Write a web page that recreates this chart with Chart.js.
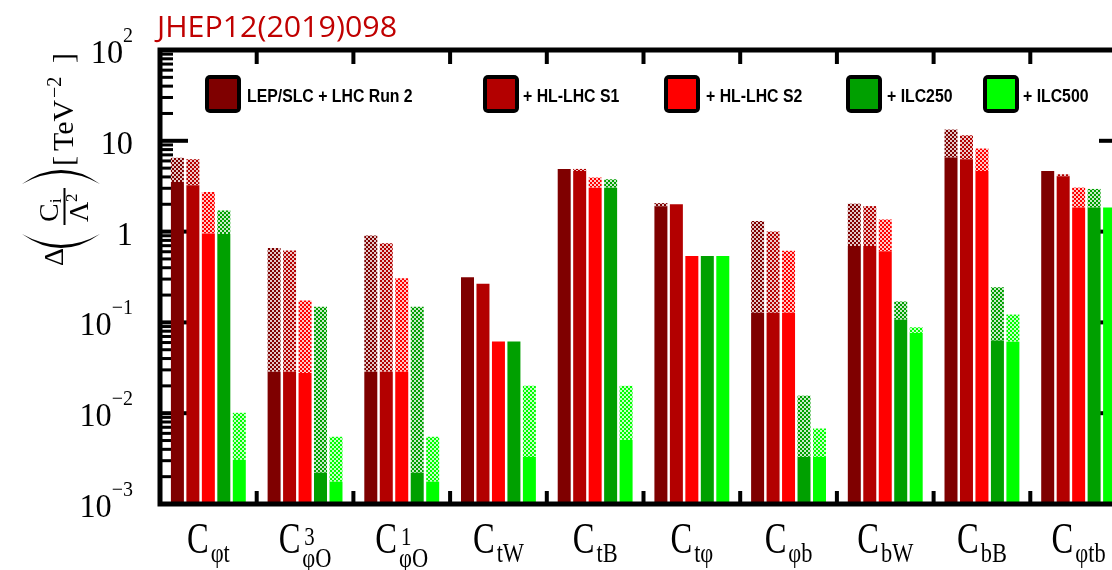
<!DOCTYPE html>
<html><head><meta charset="utf-8">
<script src="https://cdn.jsdelivr.net/npm/chart.js@4.4.1/dist/chart.umd.min.js"></script>
<style>
html,body{margin:0;padding:0;overflow:hidden;background:#fff;width:1112px;height:570px}
#wrap{width:1160px;height:570px;position:relative}
canvas{display:block}
</style>
</head><body>
<div id="wrap"><canvas id="c" width="1160" height="570"></canvas></div>
<script>
// ---------------- data ----------------
const categories = ['Cφt', 'C3φO', 'C1φO', 'CtW', 'CtB', 'Ctφ', 'Cφb', 'CbW', 'CbB', 'Cφtb'];
const labelSub = ['φt', 'φO', 'φO', 'tW', 'tB', 'tφ', 'φb', 'bW', 'bB', 'φtb'];
const labelSup = ['', '3', '1', '', '', '', '', '', '', ''];
const seriesNames = ['LEP/SLC + LHC Run 2', '+ HL-LHC S1', '+ HL-LHC S2', '+ ILC250', '+ ILC500'];
const seriesColors = ['#7f0000', '#b30000', '#ff0000', '#00a000', '#00ff00'];

// solid part (individual fit) per series
const solidLEP    = [3.52, 0.0286, 0.0286, 0.315, 4.90, 1.90, 0.128, 0.692, 6.54, 4.65];
const solidHL1    = [3.24, 0.0286, 0.0286, 0.266, 4.65, 2.00, 0.128, 0.692, 6.27, 4.07];
const solidHL2    = [0.955, 0.0277, 0.0286, 0.0618, 3.05, 0.537, 0.128, 0.609, 4.65, 1.84];
const solidILC250 = [0.94, 0.00221, 0.00221, 0.0618, 3.05, 0.537, 0.0033, 0.107, 0.063, 1.84];
const solidILC500 = [0.00306, 0.00176, 0.00176, 0.0033, 0.00508, 0.537, 0.0033, 0.0766, 0.0614, 1.84];

// dotted part (global fit, top of the dotted bar); null = no dotted part
const dottedLEP    = [6.5, 0.658, 0.908, null, null, 2.06, 1.31, 2.03, 13.3, null];
const dottedHL1    = [6.27, 0.62, 0.746, null, 4.90, null, 1.00, 1.91, 11.5, 4.28];
const dottedHL2    = [2.73, 0.174, 0.307, null, 3.94, null, 0.615, 1.36, 8.22, 3.05];
const dottedILC250 = [1.71, 0.149, 0.149, null, 3.77, null, 0.0156, 0.170, 0.244, 2.95];
const dottedILC500 = [0.0101, 0.0055, 0.0055, 0.020, 0.020, null, 0.00678, 0.0883, 0.122, null];

const yMin = 1e-3, yMax = 1e2;
const yTickValues = [1e-3, 1e-2, 1e-1, 1, 10, 100];
const yTickMain = ['10', '10', '10', '1', '10', '10'];
const yTickExp  = ['−3', '−2', '−1', '', '', '2'];
const titleText = 'JHEP12(2019)098';

const solids = [solidLEP, solidHL1, solidHL2, solidILC250, solidILC500];
const dotteds = [dottedLEP, dottedHL1, dottedHL2, dottedILC250, dottedILC500];

// ---------------- helpers ----------------
function hatch(color) {
  const c = document.createElement('canvas'); c.width = 4; c.height = 4;
  const g = c.getContext('2d');
  g.fillStyle = '#fff'; g.fillRect(0, 0, 4, 4);
  g.globalAlpha = 0.22; g.fillStyle = color; g.fillRect(0, 0, 4, 4);
  g.globalAlpha = 1; g.fillRect(0, 0, 2, 2); g.fillRect(2, 2, 2, 2);
  return g.createPattern(c, 'repeat');
}
function rr(ctx, x, y, w, h, r) {
  ctx.beginPath(); ctx.moveTo(x + r, y);
  ctx.arcTo(x + w, y, x + w, y + h, r); ctx.arcTo(x + w, y + h, x, y + h, r);
  ctx.arcTo(x, y + h, x, y, r); ctx.arcTo(x, y, x + w, y, r); ctx.closePath();
}
function textSX(ctx, t, x, y, sx) {
  ctx.save(); ctx.translate(x, y); ctx.scale(sx, 1); ctx.fillText(t, 0, 0); ctx.restore();
}

const datasets = [];
seriesNames.forEach((name, i) => {
  datasets.push({
    label: name, stack: 's' + i,
    data: solids[i].map(v => [yMin, v]),
    backgroundColor: seriesColors[i], borderWidth: 0
  });
  datasets.push({
    label: name + ' (global)', stack: 's' + i,
    data: dotteds[i].map((g, k) => g == null ? null : [solids[i][k], g]),
    backgroundColor: hatch(seriesColors[i]), borderWidth: 0
  });
});

const serif = '"Liberation Serif", "DejaVu Serif", serif';

const deco = {
  id: 'deco',
  beforeDatasetsDraw(chart) {
    const ctx = chart.ctx, y = chart.scales.y, a = chart.chartArea;
    ctx.save(); ctx.fillStyle = '#000';
    for (let e = -3; e < 2; e++) {
      for (let m = 1; m < 10; m++) {
        if (m === 1 && e === -3) continue;
        const py = y.getPixelForValue(m * Math.pow(10, e));
        const len = m === 1 ? 28 : 13, th = m === 1 ? 4 : 3;
        ctx.fillRect(a.left, py - th / 2, len, th);
        ctx.fillRect(a.right - len, py - th / 2, len, th);
      }
    }
    ctx.restore();
  },
  afterDatasetsDraw(chart) {
    const ctx = chart.ctx, x = chart.scales.x, y = chart.scales.y, a = chart.chartArea;
    ctx.save();
    // category boundary ticks
    ctx.fillStyle = '#000';
    for (let k = 1; k < categories.length; k++) {
      const bx = (x.getPixelForValue(k - 1) + x.getPixelForValue(k)) / 2;
      ctx.fillRect(bx - 2, a.top, 4, 14);
      ctx.fillRect(bx - 2, a.bottom - 13, 4, 13);
    }
    // frame
    ctx.strokeStyle = '#000'; ctx.lineWidth = 5;
    ctx.strokeRect(a.left, a.top, a.right - a.left, a.bottom - a.top);

    // y tick labels
    ctx.fillStyle = '#000'; ctx.textBaseline = 'alphabetic'; ctx.textAlign = 'left';
    yTickValues.forEach((v, i) => {
      const py = y.getPixelForValue(v);
      ctx.font = '21px ' + serif;
      const we = yTickExp[i] ? ctx.measureText(yTickExp[i]).width * 0.95 : 0;
      ctx.font = '34px ' + serif;
      const wm = ctx.measureText(yTickMain[i]).width * 0.95;
      const xr = 133;
      textSX(ctx, yTickMain[i], xr - we - wm, py + 13, 0.95);
      if (yTickExp[i]) { ctx.font = '21px ' + serif; textSX(ctx, yTickExp[i], xr - we, py - 8, 0.95); }
    });

    // x labels
    categories.forEach((c, k) => {
      const cx = x.getPixelForValue(k);
      const sx = 0.74;
      ctx.font = '44px ' + serif; const wC = ctx.measureText('C').width * sx;
      ctx.font = '28px ' + serif; const wS = ctx.measureText(labelSub[k]).width * 0.8;
      const hasSup = !!labelSup[k];
      const total = wC + 2 + wS;
      const x0 = cx - total / 2;
      ctx.font = '44px ' + serif; textSX(ctx, 'C', x0, 553, sx);
      ctx.font = '28px ' + serif; textSX(ctx, labelSub[k], x0 + wC + 2, hasSup ? 567 : 562, 0.8);
      if (hasSup) { ctx.font = '26px ' + serif; textSX(ctx, labelSup[k], x0 + wC + 4, 545, 0.8); }
    });

    // y axis title (rotated)
    ctx.save();
    ctx.rotate(-Math.PI / 2);
    ctx.fillStyle = '#000';
    ctx.font = '28px ' + serif; ctx.fillText('Δ', -266, 63);
    ctx.fillText('C', -222, 58);
    ctx.font = '16px ' + serif; ctx.fillText('i', -203, 61);
    ctx.fillRect(-225, 63.5, 37, 2);
    ctx.font = '28px ' + serif; ctx.fillText('Λ', -222, 88);
    ctx.font = '17px ' + serif; ctx.fillText('2', -202, 77);
    ctx.font = '30px ' + serif; ctx.fillText('[', -166, 73);
    ctx.fillText('TeV', -151, 73);
    ctx.font = '20px ' + serif; ctx.fillText('−2', -98, 61);
    ctx.font = '30px ' + serif; ctx.fillText(']', -63, 73);
    ctx.restore();
    // big parentheses (rotated)
    ctx.beginPath(); ctx.moveTo(22, 234); ctx.quadraticCurveTo(61, 262, 100, 234);
    ctx.quadraticCurveTo(61, 256, 22, 234); ctx.fill();
    ctx.beginPath(); ctx.moveTo(22, 184); ctx.quadraticCurveTo(61, 156, 100, 184);
    ctx.quadraticCurveTo(61, 162, 22, 184); ctx.fill();

    // legend
    const boxX = [205, 483, 664, 846, 983];
    const txtX = [247, 523, 706, 887, 1023];
    seriesNames.forEach((n, i) => {
      ctx.fillStyle = '#000'; rr(ctx, boxX[i], 75, 36, 38, 5); ctx.fill();
      ctx.fillStyle = seriesColors[i]; ctx.fillRect(boxX[i] + 4, 79, 28, 30);
      ctx.fillStyle = '#000'; ctx.font = 'bold 18.5px "Liberation Sans", Arial, sans-serif';
      textSX(ctx, n, txtX[i], 102, 0.855);
    });

    // title
    ctx.fillStyle = '#c00000'; ctx.font = '30px "Open Sans", sans-serif';
    const tw = ctx.measureText(titleText).width;
    textSX(ctx, titleText, 157, 37, 240 / tw);
    ctx.restore();
  }
};

new Chart(document.getElementById('c'), {
  type: 'bar',
  data: { labels: categories, datasets },
  options: {
    responsive: false, animation: false, devicePixelRatio: 1,
    layout: { padding: { left: 160, right: 33, top: 50, bottom: 66 } },
    categoryPercentage: 0.8, barPercentage: 0.84,
    plugins: { legend: { display: false }, tooltip: { enabled: false }, title: { display: false } },
    scales: {
      x: { type: 'category', display: false, offset: true },
      y: { type: 'logarithmic', display: false, min: yMin, max: yMax, stacked: false }
    }
  },
  plugins: [deco]
});
</script>
</body></html>
